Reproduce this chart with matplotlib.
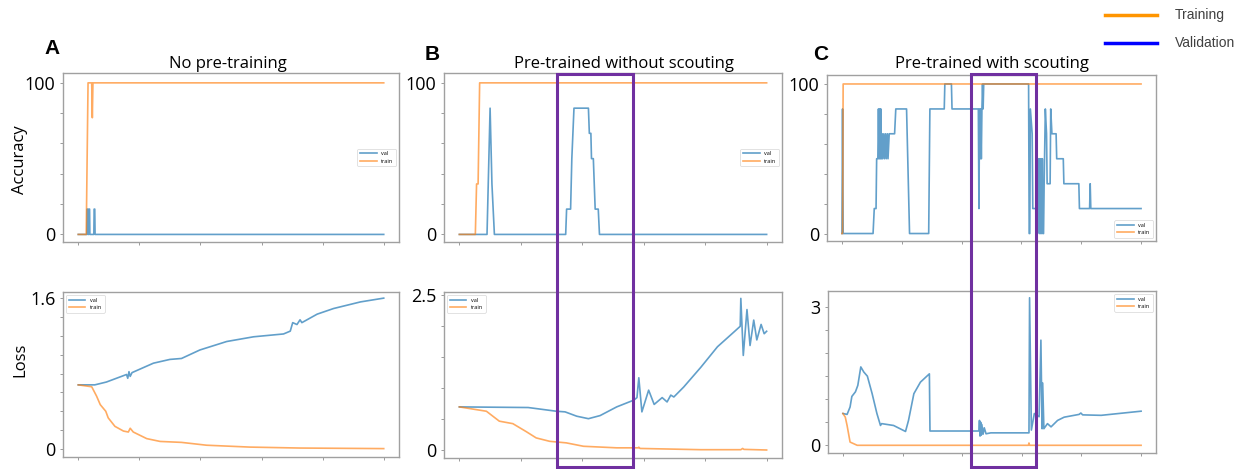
import numpy as np
import matplotlib.pyplot as plt
from matplotlib.patches import Rectangle
from matplotlib.lines import Line2D

plt.rcParams['font.family'] = 'Open Sans'

W, H = 1255, 469

# ---- data: (epoch, value) vertices ----
# A: no pre-training
a_acc_val_x = [0, 14, 14.5, 15.5, 16, 17, 17.5, 18.5, 19, 25.5, 26, 27, 27.5, 500]
a_acc_val_y = [0, 0, 16.7, 16.7, 0, 0, 16.7, 16.7, 0, 0, 16.7, 16.7, 0, 0]
a_acc_train_x = [0, 13, 16, 22, 23, 24, 500]
a_acc_train_y = [0, 0, 100, 100, 77, 100, 100]

a_loss_val_x = [0, 27, 46, 79, 81, 83, 85, 88, 123, 150, 169, 199, 243, 287, 336, 347, 351, 358, 363, 366, 391, 418, 462, 500]
a_loss_val_y = [0.68, 0.68, 0.71, 0.79, 0.75, 0.82, 0.77, 0.81, 0.91, 0.95, 0.96, 1.05, 1.14, 1.19, 1.22, 1.25, 1.34, 1.32, 1.37, 1.34, 1.43, 1.49, 1.56, 1.6]
a_loss_train_x = [0, 22, 30, 36, 45, 49, 60, 74, 82, 85, 90, 112, 134, 169, 210, 281, 363, 500]
a_loss_train_y = [0.68, 0.66, 0.56, 0.47, 0.40, 0.33, 0.24, 0.19, 0.18, 0.22, 0.18, 0.11, 0.08, 0.07, 0.04, 0.02, 0.01, 0.004]

# B: pre-trained without scouting
b_acc_val_x = [0, 45, 47, 50, 53, 57, 173, 174.5, 181, 183, 186.5, 210, 211.5, 214, 215, 218, 221, 226, 228, 500]
b_acc_val_y = [0, 0, 33.3, 83.3, 33.3, 0, 0, 16.7, 16.7, 50, 83.3, 83.3, 66.7, 66.7, 50, 50, 16.7, 16.7, 0, 0]
b_acc_train_x = [0, 26, 28, 30.5, 33, 500]
b_acc_train_y = [0, 0, 33.3, 33.3, 100, 100]

b_loss_val_x = [0, 112, 158, 172, 191, 210, 229, 256, 284, 289, 292, 297, 308, 317, 330, 338, 344, 349, 357, 365, 393, 420, 447, 457, 458, 462, 468, 473, 479, 484, 491, 496, 500]
b_loss_val_y = [0.70, 0.69, 0.63, 0.62, 0.55, 0.51, 0.56, 0.70, 0.81, 0.85, 1.17, 0.62, 0.97, 0.74, 0.85, 0.78, 0.89, 0.86, 0.94, 1.02, 1.34, 1.67, 1.91, 2.0, 2.45, 1.53, 2.27, 1.69, 2.10, 1.78, 2.03, 1.88, 1.92]
b_loss_train_x = [0, 44, 65, 87, 109, 125, 147, 174, 202, 256, 291, 292, 294, 393, 458, 461, 463, 500]
b_loss_train_y = [0.70, 0.63, 0.47, 0.43, 0.30, 0.20, 0.145, 0.12, 0.065, 0.04, 0.04, 0.05, 0.03, 0.01, 0.01, 0.03, 0.015, 0.005]

# C: pre-trained with scouting
c_acc_val_x = [0, 1, 2, 52, 54, 57, 58, 60, 61, 62, 63, 64, 65, 66, 67, 68, 70, 71, 73, 74, 76, 77, 79, 88, 90,
               108, 110, 113, 145, 147, 171, 172, 183, 184, 228, 229, 230, 231, 232, 233, 234, 235, 236, 237,
               312, 313, 314, 315, 318, 319, 328, 329, 330, 331, 332, 333, 334, 335, 336, 337, 338, 340, 342,
               343, 348, 349, 351, 358, 359, 370, 371, 396, 397, 414, 415, 416, 500]
c_acc_val_y = [0, 83.3, 0, 0, 16.7, 16.7, 50, 50, 83.3, 50, 83.3, 50, 83.3, 50, 66.7, 50, 66.7, 50, 66.7, 50, 66.7, 50, 66.7, 66.7, 83.3,
               83.3, 50, 0, 0, 83.3, 83.3, 100, 100, 83.3, 83.3, 16.7, 83.3, 50, 83.3, 50, 83.3, 100, 83.3, 100,
               100, 0, 0, 83.3, 66.7, 16.7, 16.7, 50, 0, 50, 0, 50, 0, 50, 0, 0, 33.3, 83.3, 66.7,
               33.3, 33.3, 83.3, 66.7, 66.7, 50, 50, 33.3, 33.3, 16.7, 16.7, 33.3, 16.7, 16.7]
c_acc_train_x = [0, 1, 2, 500]
c_acc_train_y = [0, 0, 100, 100]

c_loss_val_x = [0, 7, 12, 15, 21, 25, 30, 35, 41, 49, 57, 63, 65, 85, 105, 110, 119, 130, 145, 146, 228,
                229, 230, 231, 232, 233, 235, 237, 240, 248, 312, 313, 316, 321, 329, 332, 334, 335, 337,
                343, 349, 360, 371, 396, 399, 402, 433, 500]
c_loss_val_y = [0.69, 0.67, 0.83, 1.06, 1.16, 1.30, 1.70, 1.59, 1.50, 1.12, 0.69, 0.43, 0.47, 0.43, 0.30, 0.54, 1.12, 1.37, 1.55, 0.31, 0.31,
                0.54, 0.20, 0.50, 0.22, 0.45, 0.24, 0.38, 0.25, 0.27, 0.27, 3.2, 0.33, 0.69, 0.62, 2.28, 0.36, 1.35, 0.36,
                0.47, 0.40, 0.54, 0.61, 0.67, 0.70, 0.66, 0.65, 0.74]
c_loss_train_x = [0, 4, 7, 12, 24, 311, 312, 313, 500]
c_loss_train_y = [0.69, 0.61, 0.43, 0.07, 0.0, 0.0, 0.05, 0.0, 0.0]

BLUE = '#1f77b4'
ORANGE = '#ff7f0e'

fig = plt.figure(figsize=(W / 100, H / 100), dpi=100)


def px_axes(x0, y0, x1, y1):
    return fig.add_axes([x0 / W, 1 - y1 / H, (x1 - x0) / W, (y1 - y0) / H])


def style(ax, yticks, top_label, ylim):
    ax.set_xlim(-25, 525)
    ax.set_xticks(np.arange(0, 501, 100))
    ax.set_xticklabels([])
    ax.set_yticks(yticks)
    labels = [''] * len(yticks)
    labels[0] = '0'
    labels[-1] = top_label
    ax.set_yticklabels(labels, fontsize=13)
    ax.set_ylim(ylim)
    for s in ax.spines.values():
        s.set_color('#a0a0a0')
        s.set_linewidth(1.0)
    ax.tick_params(length=2.5, width=0.6, color='#8a8a8a', pad=3)


def draw(ax, vx, vy, tx, ty, loc):
    ax.plot(vx, vy, color=BLUE, lw=1.2, alpha=0.7, label='val')
    ax.plot(tx, ty, color=ORANGE, lw=1.2, alpha=0.65, label='train')
    leg = ax.legend(loc=loc, fontsize=4, handlelength=3, borderpad=0.5, labelspacing=0.4)
    leg.get_frame().set_linewidth(0.5)


acc_ticks = np.linspace(0, 100, 6)

# A
ax = px_axes(63, 73, 399, 242)
draw(ax, a_acc_val_x, a_acc_val_y, a_acc_train_x, a_acc_train_y, 'center right')
style(ax, acc_ticks, '100', (-5, 106.5))
ax = px_axes(63, 292, 399, 457)
draw(ax, a_loss_val_x, a_loss_val_y, a_loss_train_x, a_loss_train_y, 'upper left')
style(ax, np.linspace(0, 1.6, 9), '1.6', (-0.085, 1.665))

# B
ax = px_axes(444, 73, 782, 242)
draw(ax, b_acc_val_x, b_acc_val_y, b_acc_train_x, b_acc_train_y, 'center right')
style(ax, acc_ticks, '100', (-5, 106.5))
ax = px_axes(444, 292, 782, 458)
draw(ax, b_loss_val_x, b_loss_val_y, b_loss_train_x, b_loss_train_y, 'upper left')
style(ax, np.linspace(0, 2.5, 6), '2.5', (-0.124, 2.553))

# C
ax = px_axes(827, 75, 1156, 241)
draw(ax, c_acc_val_x, c_acc_val_y, c_acc_train_x, c_acc_train_y, 'lower right')
style(ax, acc_ticks, '100', (-5, 106))
ax = px_axes(828, 291, 1156, 453)
draw(ax, c_loss_val_x, c_loss_val_y, c_loss_train_x, c_loss_train_y, 'upper right')
style(ax, np.linspace(0, 3, 7), '3', (-0.167, 3.347))

# panel letters, titles, row labels
for letter, (x, y) in zip('ABC', [(52, 48), (432, 54), (821, 54)]):
    fig.text(x / W, 1 - y / H, letter, fontsize=15, fontweight='bold',
             family='Liberation Sans', ha='center', va='center')
titles = ['No pre-training', 'Pre-trained without scouting', 'Pre-trained with scouting']
for t, x in zip(titles, [228, 624, 992]):
    fig.text(x / W, 1 - 64 / H, t, fontsize=12, ha='center', va='center')
fig.text(20 / W, 1 - 160 / H, 'Accuracy', fontsize=12, rotation=90, ha='center', va='center')
fig.text(20 / W, 1 - 360 / H, 'Loss', fontsize=12, rotation=90, ha='center', va='center')

# purple highlight boxes
for x0, x1 in [(557, 633), (971, 1036)]:
    fig.add_artist(Rectangle((x0 / W, 1 - 467 / H), (x1 - x0) / W, (467 - 74) / H,
                             transform=fig.transFigure, fill=False,
                             edgecolor='#7030a0', lw=2.2))

# figure-level legend (top right)
for y, col, name in [(15, '#ff9500', 'Training'), (43, '#0000ff', 'Validation')]:
    fig.add_artist(Line2D([1105 / W, 1157 / W], [1 - y / H] * 2, color=col, lw=2.5))
    fig.text(1175 / W, 1 - y / H, name, fontsize=10, family='Liberation Sans',
             color='#404040', ha='left', va='center')

fig.savefig('out.png', dpi=100)
